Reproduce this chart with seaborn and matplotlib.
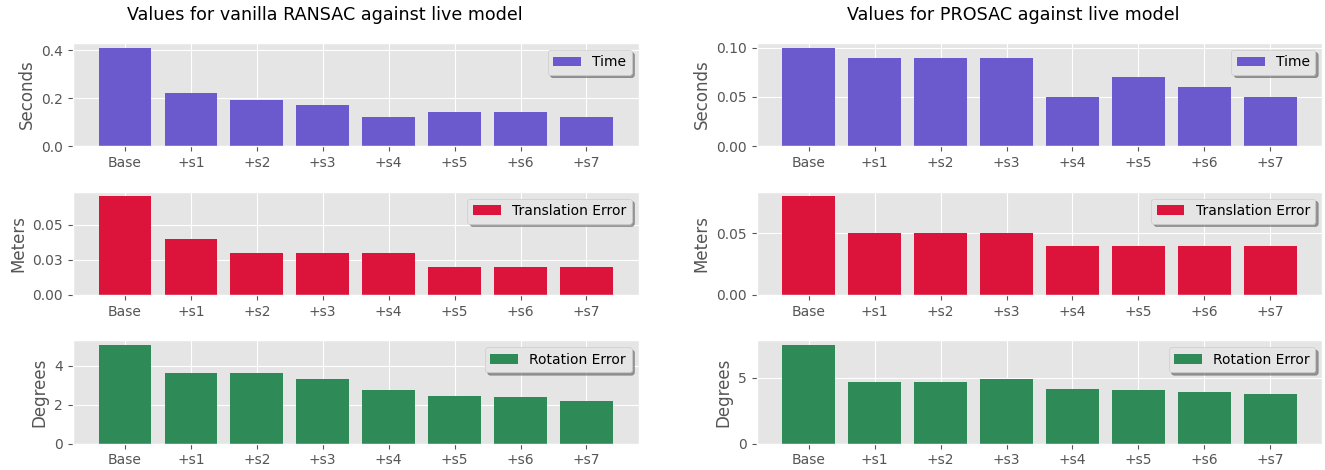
import numpy as np
import matplotlib
matplotlib.use("Agg")
import matplotlib.pyplot as plt
import seaborn as sns
from matplotlib.ticker import FormatStrFormatter

# data
steps = ["Base", "+s1", "+s2", "+s3", "+s4", "+s5", "+s6", "+s7"]

ransac_time = [0.41, 0.22, 0.19, 0.17, 0.12, 0.14, 0.14, 0.12]
ransac_trans = [0.07, 0.04, 0.03, 0.03, 0.03, 0.02, 0.02, 0.02]
ransac_rot = [5.05, 3.63, 3.63, 3.32, 2.77, 2.46, 2.41, 2.21]

prosac_time = [0.10, 0.09, 0.09, 0.09, 0.05, 0.07, 0.06, 0.05]
prosac_trans = [0.08, 0.05, 0.05, 0.05, 0.04, 0.04, 0.04, 0.04]
prosac_rot = [7.45, 4.65, 4.65, 4.88, 4.13, 4.06, 3.91, 3.79]

titles = ["Values for vanilla RANSAC against live model",
          "Values for PROSAC against live model"]
metrics = ["Time", "Translation Error", "Rotation Error"]
units = ["Seconds", "Meters", "Degrees"]
colors = ["slateblue", "crimson", "seagreen"]

plt.style.use("ggplot")

fig, axes = plt.subplots(3, 2, figsize=(13.25, 4.7), dpi=100)
fig.subplots_adjust(left=0.055, right=0.998, bottom=0.056, top=0.909,
                    wspace=0.209, hspace=0.44)

columns = [[ransac_time, ransac_trans, ransac_rot],
           [prosac_time, prosac_trans, prosac_rot]]

for c, col in enumerate(columns):
    for r, vals in enumerate(col):
        ax = axes[r, c]
        sns.barplot(x=steps, y=vals, color=colors[r], saturation=1,
                    width=0.8, label=metrics[r], ax=ax)
        # go back to plain matplotlib bar margins and grid
        span = len(steps) - 1 + 0.8
        ax.set_xlim(-0.4 - 0.05 * span, len(steps) - 0.6 + 0.05 * span)
        ax.grid(True, axis="x")
        ax.set_ylabel(units[r])
        if r == 1:
            ax.yaxis.set_major_formatter(FormatStrFormatter("%.2f"))
        ax.legend(loc="upper right", shadow=True, fancybox=True)

fig.text(325 / 1325, 1 - 15 / 470, titles[0], ha="center", va="center", fontsize=12.6)
fig.text(1013 / 1325, 1 - 15 / 470, titles[1], ha="center", va="center", fontsize=12.6)

fig.savefig("out.png", dpi=100)
